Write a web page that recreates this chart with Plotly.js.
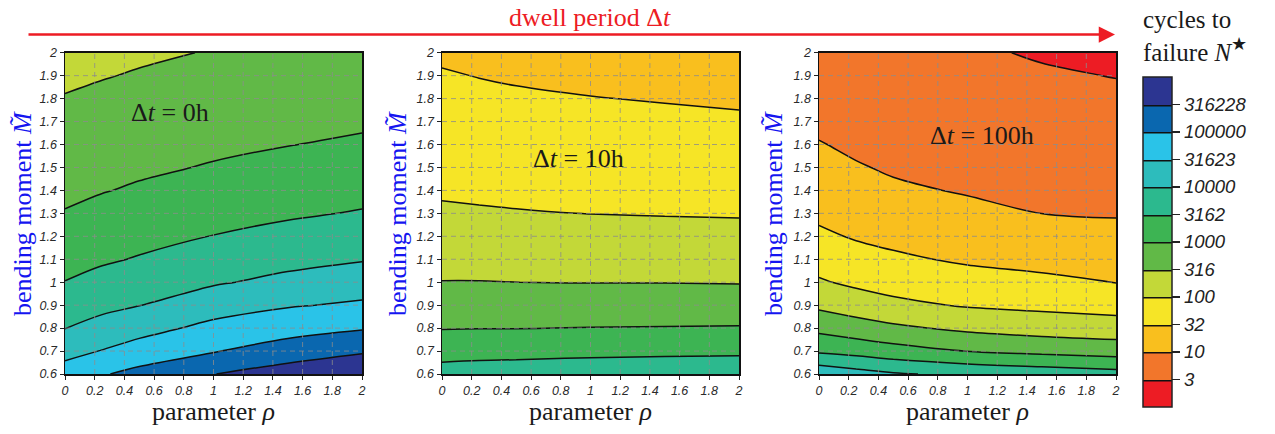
<!DOCTYPE html>
<html><head><meta charset="utf-8">
<script src="https://cdn.plot.ly/plotly-3.0.1.min.js"></script>
<style>html,body{margin:0;padding:0;background:#fff}#chart{width:1275px;height:434px}</style>
</head><body><div id="chart"></div>
<script>
// grid of parameter rho (x) and bending moment (y)
const rho = [0, 0.25, 0.5, 1, 1.5, 2];
const moment = [0.6, 0.7, 0.8, 0.9, 1.0, 1.1, 1.2, 1.3, 1.4, 1.5, 1.6, 1.7, 1.8, 1.9, 2.0];

// log10 of cycles to failure, rows = moment, columns = rho
const logN_0h = [
  [4.75, 4.96, 5.14, 5.49, 5.74, 5.95],
  [4.32, 4.52, 4.71, 4.97, 5.23, 5.44],
  [3.99, 4.17, 4.33, 4.63, 4.81, 4.96],
  [3.75, 3.88, 3.99, 4.28, 4.46, 4.57],
  [3.51, 3.65, 3.76, 3.95, 4.12, 4.26],
  [3.34, 3.44, 3.53, 3.73, 3.86, 3.97],
  [3.18, 3.29, 3.37, 3.51, 3.64, 3.75],
  [3.02, 3.13, 3.21, 3.34, 3.44, 3.53],
  [2.92, 2.98, 3.05, 3.19, 3.29, 3.37],
  [2.82, 2.88, 2.93, 3.03, 3.13, 3.22],
  [2.72, 2.78, 2.83, 2.92, 2.99, 3.06],
  [2.62, 2.68, 2.73, 2.82, 2.89, 2.94],
  [2.52, 2.58, 2.63, 2.72, 2.79, 2.84],
  [2.43, 2.48, 2.53, 2.62, 2.69, 2.74],
  [2.34, 2.39, 2.44, 2.52, 2.59, 2.64]
];
const logN_10h = [
  [3.68, 3.71, 3.73, 3.77, 3.79, 3.81],
  [3.33, 3.35, 3.36, 3.39, 3.41, 3.42],
  [2.98, 2.99, 2.99, 3.01, 3.02, 3.03],
  [2.75, 2.75, 2.75, 2.75, 2.75, 2.74],
  [2.51, 2.51, 2.501, 2.49, 2.49, 2.48],
  [2.36, 2.35, 2.34, 2.33, 2.31, 2.30],
  [2.21, 2.19, 2.18, 2.16, 2.14, 2.12],
  [2.06, 2.04, 2.02, 1.995, 1.98, 1.97],
  [1.95, 1.93, 1.92, 1.90, 1.88, 1.87],
  [1.86, 1.85, 1.83, 1.80, 1.78, 1.76],
  [1.78, 1.76, 1.74, 1.71, 1.68, 1.66],
  [1.69, 1.67, 1.65, 1.61, 1.58, 1.55],
  [1.61, 1.58, 1.55, 1.51, 1.48, 1.45],
  [1.53, 1.49, 1.46, 1.42, 1.38, 1.35],
  [1.44, 1.40, 1.37, 1.32, 1.28, 1.24]
];
const logN_100h = [
  [4.36, 4.19, 4.05, 3.90, 3.79, 3.67],
  [3.42, 3.32, 3.19, 2.99, 2.87, 2.78],
  [2.87, 2.72, 2.59, 2.40, 2.29, 2.22],
  [2.40, 2.25, 2.11, 1.96, 1.89, 1.82],
  [2.05, 1.91, 1.82, 1.68, 1.59, 1.49],
  [1.81, 1.67, 1.57, 1.44, 1.37, 1.30],
  [1.58, 1.46, 1.39, 1.27, 1.19, 1.12],
  [1.41, 1.32, 1.23, 1.10, 0.999, 0.97],
  [1.28, 1.17, 1.06, 0.97, 0.92, 0.89],
  [1.15, 1.03, 0.955, 0.90, 0.847, 0.81],
  [1.02, 0.93, 0.88, 0.83, 0.771, 0.73],
  [0.915, 0.85, 0.805, 0.76, 0.695, 0.65],
  [0.817, 0.77, 0.73, 0.69, 0.618, 0.57],
  [0.72, 0.68, 0.655, 0.62, 0.542, 0.49],
  [0.62, 0.60, 0.58, 0.55, 0.466, 0.41]
];

const panelLabels = ['Δ<i>t</i> = 0h', 'Δ<i>t</i> = 10h', 'Δ<i>t</i> = 100h'];
const panelLabelPos = [[0.71, 1.74], [0.92, 1.54], [1.10, 1.64]];

// contour levels (log10 N) and their colorbar labels
const levelValues = [0.5, 1, 1.5, 2, 2.5, 3, 3.5, 4, 4.5, 5, 5.5];
const levelText = ['3', '10', '32', '100', '316', '1000', '3162', '10000', '31623', '100000', '316228'];
const bandColors = ['#ED1C24', '#F2762B', '#F9BF1E', '#F6E526', '#C3D838', '#61B947',
                    '#3DB453', '#2CB98E', '#2DBCBC', '#2AC3E8', '#0A67AF', '#2C3591'];
const zLimits = [0, 6];

const xTickVals = [0, 0.2, 0.4, 0.6, 0.8, 1, 1.2, 1.4, 1.6, 1.8, 2];
const xTickText = ['0', '0.2', '0.4', '0.6', '0.8', '1', '1.2', '1.4', '1.6', '1.8', '2'];
const yTickVals = [0.6, 0.7, 0.8, 0.9, 1, 1.1, 1.2, 1.3, 1.4, 1.5, 1.6, 1.7, 1.8, 1.9, 2];
const yTickText = ['0.6', '0.7', '0.8', '0.9', '1', '1.1', '1.2', '1.3', '1.4', '1.5', '1.6', '1.7', '1.8', '1.9', '2'];

// step colorscale: each band gets a flat colour
const nB = levelValues.length; // 11 -> domain width 5.5
const cs = [];
for (let b = 0; b < nB; b++) {
  cs.push([b / nB, bandColors[b]]);
  cs.push([(b + 1) / nB - 1e-4, bandColors[b]]);
}
cs.push([1, bandColors[nB]]);

const zs = [logN_0h, logN_10h, logN_100h];
const sfx = ['', '2', '3'];
const xDomains = [[65 / 1275, 362 / 1275], [442 / 1275, 739 / 1275], [819 / 1275, 1116 / 1275]];
const yDomain = [60 / 434, 381.3 / 434];

const serif = 'Liberation Serif, Times New Roman, serif';
const sans = 'Liberation Sans, Arial, sans-serif';

const traces = zs.map((z, i) => ({
  type: 'contour', x: rho, y: moment, z: z,
  xaxis: 'x' + sfx[i], yaxis: 'y' + sfx[i],
  autocontour: false,
  zmin: zLimits[0], zmax: zLimits[1],
  contours: {start: levelValues[0], end: levelValues[levelValues.length - 1], size: 0.5, coloring: 'fill', showlines: true},
  line: {color: '#111', width: 1.5, smoothing: 1},
  colorscale: cs,
  showscale: i === 2,
  hoverinfo: 'skip',
  colorbar: i === 2 ? {
    x: 1143 / 1275, xanchor: 'left', xpad: 0,
    y: (434 - 242) / 434, yanchor: 'middle', ypad: 0,
    len: 330 / 434, lenmode: 'fraction', thickness: 29,
    outlinewidth: 1.5, outlinecolor: '#222',
    tickmode: 'array', tickvals: levelValues, ticktext: levelText,
    ticks: 'outside', ticklen: 8, tickwidth: 1.5, tickcolor: '#222',
    tickfont: {family: sans, size: 18.5, style: 'italic', color: '#222'}
  } : undefined
}));

const layout = {
  width: 1275, height: 434,
  margin: {l: 0, r: 0, t: 0, b: 0},
  paper_bgcolor: '#fff', plot_bgcolor: '#fff',
  showlegend: false,
  shapes: [], annotations: []
};

for (let i = 0; i < 3; i++) {
  const axCommon = {
    showline: true, linecolor: '#111', linewidth: 1.5, mirror: true,
    showgrid: false, zeroline: false, ticks: 'outside', ticklen: 4, tickcolor: '#222',
    tickfont: {family: sans, size: 12.5, style: 'italic', color: '#2a2a2a'},
    tickmode: 'array'
  };
  layout['xaxis' + sfx[i]] = Object.assign({}, axCommon, {
    domain: xDomains[i], range: [0, 2], anchor: 'y' + sfx[i],
    tickvals: xTickVals, ticktext: xTickText
  });
  layout['yaxis' + sfx[i]] = Object.assign({}, axCommon, {
    domain: yDomain, range: [0.6, 2], anchor: 'x' + sfx[i],
    tickvals: yTickVals, ticktext: yTickText
  });
  // dashed grid drawn above the filled contours
  xTickVals.slice(1, -1).forEach(v => layout.shapes.push({
    type: 'line', xref: 'x' + sfx[i], yref: 'y' + sfx[i], x0: v, x1: v, y0: 0.6, y1: 2,
    layer: 'above', line: {color: 'rgba(140,140,140,0.8)', width: 1, dash: '5px,4px'}
  }));
  yTickVals.slice(1, -1).forEach(v => layout.shapes.push({
    type: 'line', xref: 'x' + sfx[i], yref: 'y' + sfx[i], x0: 0, x1: 2, y0: v, y1: v,
    layer: 'above', line: {color: 'rgba(140,140,140,0.8)', width: 1, dash: '5px,4px'}
  }));
  const cx = (xDomains[i][0] + xDomains[i][1]) / 2;
  layout.annotations.push({
    xref: 'x' + sfx[i], yref: 'y' + sfx[i], x: panelLabelPos[i][0], y: panelLabelPos[i][1],
    text: panelLabels[i], showarrow: false, xanchor: 'center', yanchor: 'middle',
    font: {family: serif, size: 26, color: '#1a1a1a'}
  });
  layout.annotations.push({
    xref: 'paper', yref: 'paper', x: cx, y: 23 / 434, xanchor: 'center', yanchor: 'middle',
    text: 'parameter <i>ρ</i>', showarrow: false,
    font: {family: serif, size: 26, color: '#1a1a1a'}
  });
  layout.annotations.push({
    xref: 'paper', yref: 'paper', x: [22, 397, 773][i] / 1275, y: 220 / 434,
    xanchor: 'center', yanchor: 'middle', textangle: -90,
    text: 'bending moment <i>M̃</i>', showarrow: false,
    font: {family: serif, size: 26, color: '#1515F0'}
  });
}

// dwell period arrow and label
layout.annotations.push({
  xref: 'paper', yref: 'paper', x: 1115 / 1275, y: (434 - 34.5) / 434,
  axref: 'paper', ayref: 'paper', ax: 27 / 1275, ay: (434 - 34.5) / 434,
  text: '', showarrow: true, arrowhead: 2, arrowsize: 1.3, arrowwidth: 2.5, arrowcolor: '#ED1C24'
});
layout.annotations.push({
  xref: 'paper', yref: 'paper', x: 590 / 1275, y: (434 - 17) / 434,
  xanchor: 'center', yanchor: 'middle', text: 'dwell period Δ<i>t</i>', showarrow: false,
  font: {family: serif, size: 26, color: '#ED1C24'}
});
// colorbar title
layout.annotations.push({
  xref: 'paper', yref: 'paper', x: 1141 / 1275, y: (434 - 4) / 434,
  xanchor: 'left', yanchor: 'top', align: 'left',
  text: 'cycles to<br>failure <i>N</i><sup>★</sup>', showarrow: false,
  font: {family: serif, size: 25, color: '#1a1a1a'}
});

Plotly.newPlot('chart', traces, layout, {staticPlot: true, displayModeBar: false});
</script>
</body></html>
